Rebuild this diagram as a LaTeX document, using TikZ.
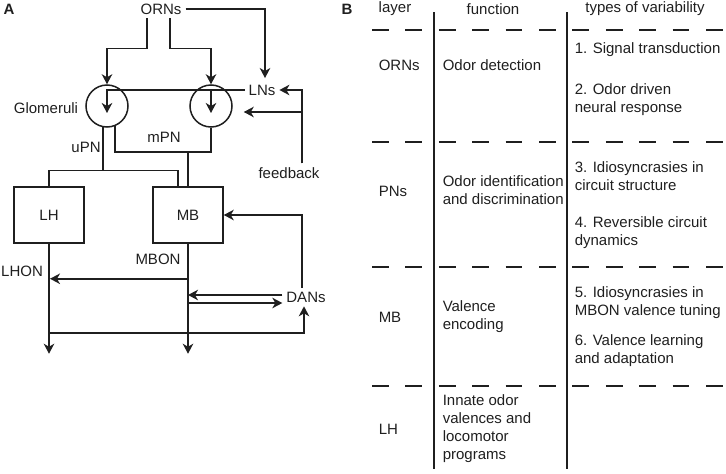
\documentclass[tikz,border=0pt]{standalone}
\usepackage{fontspec}
\setmainfont{Liberation Sans}
\usetikzlibrary{arrows.meta}
\begin{document}
\begin{tikzpicture}[x=1pt, y=-1pt, line width=1.5pt, black!88,
    font=\fontsize{15}{18}\selectfont,
    arr/.style={-{Stealth[length=10pt,width=10.5pt,inset=3pt]}},
    glom/.style={draw, circle, minimum size=42pt, inner sep=0pt},
    area/.style={draw, minimum width=70pt, minimum height=56pt, inner sep=0pt},
    cell/.style={anchor=west, inner sep=0pt, align=left},
    rule/.style={dash pattern=on 16.7pt off 16.7pt}]
  \useasboundingbox (0,0) rectangle (726,474);
  % panel A
  \node (panA) at (9,9) {\bfseries A};
  \node (ORNs) at (161,9) {ORNs};
  \node[inner ysep=6pt] (LNs) at (262,90) {LNs};
  \node[glom] (g1) at (107,106) {};
  \node[glom] (g2) at (211,106) {};
  \node (glomlab) at (46,108) {Glomeruli};
  \node (upn) at (86,147) {uPN};
  \node (mpn) at (164,137) {mPN};
  \node (feedback) at (289,173) {feedback};
  \node[area] (LH) at (49,215) {LH};
  \node[area] (MB) at (188,215) {MB};
  \node (LHON) at (22,271) {LHON};
  \node (MBON) at (158,259) {MBON};
  \node (DANs) at (306,297) {DANs};
  \draw[arr] ([xshift=-14pt]ORNs.south) -- ++(0,30) -| (g1.north);
  \draw[arr] ([xshift=9pt]ORNs.south) -- ++(0,30) -| (g2.north);
  \draw[arr] (ORNs.east) -| ([xshift=3pt]LNs.north);
  \draw[arr] (LNs.west) -| ([yshift=-7pt]g1.center);
  \draw[arr] (LNs.west -| g2.center) -- ([yshift=-7pt]g2.center);
  \draw[arr] ([xshift=13pt]feedback.north) |- (LNs.east);
  \draw[arr] ([xshift=13pt]feedback.north) |- ([xshift=11pt,yshift=-6pt]g2.east);
  % projection neurons
  \draw (g1.-101) -- ++(0,43) coordinate (upnjoin);
  \draw (LH.north) |- (upnjoin) -| ([xshift=-10pt]MB.north);
  \draw (g1.-68) -- ++(0,26) coordinate (mpnjoin) -| (g2.south);
  \draw (mpnjoin -| MB.north) -- (MB.north);
  % outputs and DANs
  \draw[arr] (LH.south) -- ++(0,110);
  \draw[arr] (MB.south) -- ++(0,110);
  \draw[arr, shorten >=1pt] ([yshift=-35pt]MB.south) -- ([yshift=-35pt]LH.south);
  \draw[arr] ([xshift=-4pt]DANs.north) |- (MB.east);
  \coordinate (danin) at ([yshift=2pt]DANs.west);
  \coordinate (danout) at ([yshift=-6pt]DANs.west);
  \draw[arr] (danin) -- (danin -| MB.south);
  \draw[arr] (danout -| MB.south) -- (danout);
  \coordinate (loop) at ([yshift=-89pt]LH.south);
  \draw[arr] (loop) -| ([xshift=-2pt]DANs.south);
  % panel B
  \node (panB) at (347,9) {\bfseries B};
  \node (hlayer) at (395,9) {layer};
  \node (hfunc) at (493,9) {function};
  \node (hvar) at (645,9) {types of variability};
  \draw (434,12) -- (434,469);
  \draw (567,12) -- (567,469);
  \foreach \y in {30,142,267,386}
    \draw[rule] (372,\y) -- (726,\y);
  \node[cell] (layORN) at (378,65) {ORNs};
  \node[cell] (fnORN) at (442,65) {Odor detection};
  \node[cell] (var1) at (574,50) {1. Signal transduction};
  \node[cell] (var2) at (574,99.5) {2. Odor driven\\neural response};
  \node[cell] (layPN) at (378,191) {PNs};
  \node[cell] (fnPN) at (442,190.5) {Odor identification\\and discrimination};
  \node[cell] (var3) at (574,176) {3. Idiosyncrasies in\\circuit structure};
  \node[cell] (var4) at (574,232.5) {4. Reversible circuit\\dynamics};
  \node[cell] (layMB) at (378,317) {MB};
  \node[cell] (fnMB) at (442,316.5) {Valence\\encoding};
  \node[cell] (var5) at (574,302.5) {5. Idiosyncrasies in\\MBON valence tuning};
  \node[cell] (var6) at (574,351) {6. Valence learning\\and adaptation};
  \node[cell] (layLH) at (378,429) {LH};
  \node[cell] (fnLH) at (442,428.5) {Innate odor\\valences and\\locomotor\\programs};
\end{tikzpicture}
\end{document}
